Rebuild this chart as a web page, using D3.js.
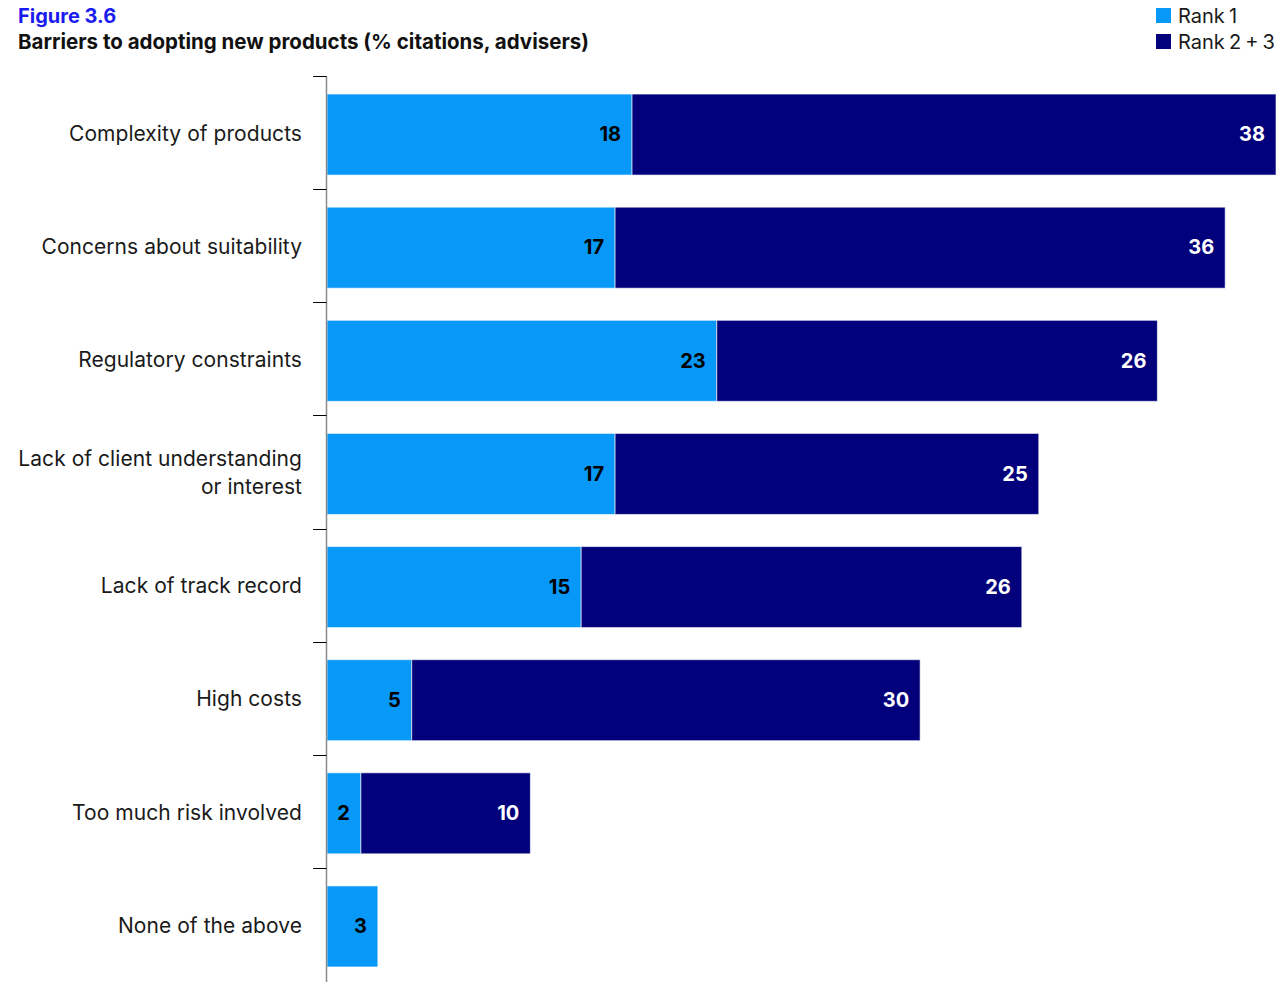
<!DOCTYPE html>
<html>
<head>
<meta charset="utf-8">
<script src="https://cdn.jsdelivr.net/npm/d3@7"></script>
<style>
  html, body { margin: 0; padding: 0; background: #fff; }
  svg { display: block; font-family: Inter, "Noto Sans", sans-serif; }
</style>
</head>
<body>
<svg id="chart" width="1288" height="982"></svg>
<script>
// Barriers to adopting new products (% citations, advisers)
const categories = [
  "Complexity of products",
  "Concerns about suitability",
  "Regulatory constraints",
  "Lack of client understanding|or interest",
  "Lack of track record",
  "High costs",
  "Too much risk involved",
  "None of the above"
];
const rank1 = [18, 17, 23, 17, 15, 5, 2, 3];
const rank23 = [38, 36, 26, 25, 26, 30, 10, 0];
const seriesNames = ["Rank 1", "Rank 2 + 3"];
const colors = ["#0798f8", "#02007a"];

const svg = d3.select("#chart");

// Scales
const x = d3.scaleLinear().domain([0, 56]).range([327, 1276]);
const y = d3.scaleBand().domain(categories).range([78, 983])
  .paddingInner(0.284).paddingOuter(0.142);

const rows = categories.map((c, i) => ({ cat: c, r1: rank1[i], r23: rank23[i] }));
const stack = d3.stack().keys(["r1", "r23"])(rows);

// Bars
stack.forEach((layer, li) => {
  svg.append("g").selectAll("rect").data(layer).join("rect")
    .attr("x", d => x(d[0]))
    .attr("y", d => y(d.data.cat))
    .attr("width", d => Math.max(0, x(d[1]) - x(d[0])))
    .attr("height", y.bandwidth())
    .attr("fill", colors[li])
    .attr("stroke", "rgba(255,255,255,0.6)")
    .attr("stroke-width", 1)
    .style("display", d => d[1] - d[0] > 0 ? null : "none");

  svg.append("g").selectAll("text").data(layer.filter(d => d[1] - d[0] > 0)).join("text")
    .attr("x", d => x(d[1]) - 11)
    .attr("y", d => y(d.data.cat) + y.bandwidth() / 2)
    .attr("dy", "0.34em")
    .attr("text-anchor", "end")
    .attr("font-size", 20)
    .attr("font-weight", 700)
    .attr("fill", li === 0 ? "#000" : "#fff")
    .text(d => d[1] - d[0]);
});

// Vertical axis line and band-boundary ticks
const axisX = 326.5;
svg.append("line")
  .attr("x1", axisX).attr("x2", axisX)
  .attr("y1", 76).attr("y2", 982)
  .attr("stroke", "#8a8a8a").attr("stroke-width", 1.5);
const tickY = d => Math.round(y(d) - 18) + 0.5;
svg.append("g").selectAll("line").data(categories).join("line")
  .attr("x1", 313).attr("x2", axisX)
  .attr("y1", tickY)
  .attr("y2", tickY)
  .attr("stroke", "#000").attr("stroke-width", 1);

// Category labels
const labels = svg.append("g").selectAll("text").data(categories).join("text")
  .attr("x", 302)
  .attr("y", d => y(d) + y.bandwidth() / 2)
  .attr("text-anchor", "end")
  .attr("font-size", 21)
  .attr("letter-spacing", "0.05")
  .attr("fill", "#1a1a1a");
labels.each(function(d) {
  const lines = d.split("|");
  const t = d3.select(this);
  lines.forEach((ln, i) => {
    t.append("tspan")
      .attr("x", 302)
      .attr("dy", i === 0 ? (0.3 - (lines.length - 1) * 0.66) + "em" : "1.32em")
      .text(ln);
  });
});

// Titles
svg.append("text")
  .attr("x", 18).attr("y", 23)
  .attr("font-size", 20).attr("font-weight", 700)
  .attr("fill", "#1b1bf0")
  .text("Figure 3.6");
svg.append("text")
  .attr("x", 18).attr("y", 49)
  .attr("font-size", 20.5).attr("font-weight", 700)
  .attr("letter-spacing", "0")
  .attr("fill", "#111")
  .text("Barriers to adopting new products (% citations, advisers)");

// Legend
const legend = svg.append("g").selectAll("g").data(seriesNames).join("g")
  .attr("transform", (d, i) => `translate(1156, ${8 + i * 26})`);
legend.append("rect")
  .attr("width", 15).attr("height", 15)
  .attr("fill", (d, i) => colors[i]);
legend.append("text")
  .attr("x", 22).attr("y", 8).attr("dy", "0.36em")
  .attr("font-size", 20).attr("word-spacing", "-1.5").attr("fill", "#1a1a1a")
  .text(d => d);
</script>
</body>
</html>
